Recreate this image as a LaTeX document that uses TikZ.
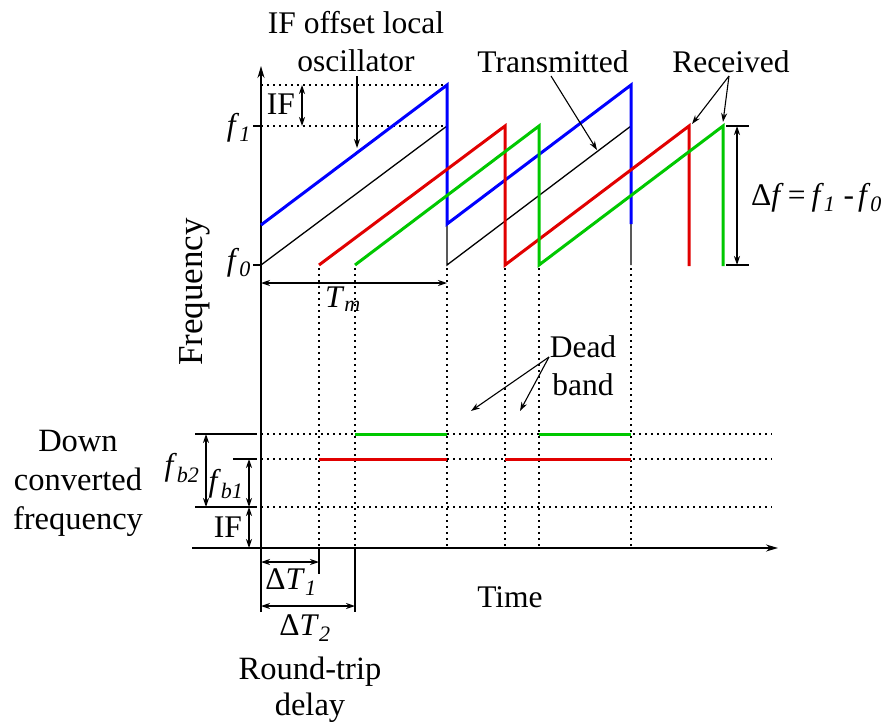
\documentclass[tikz,border=0pt]{standalone}
\usepackage{fontspec}
\setmainfont{Liberation Serif}
\usetikzlibrary{arrows.meta}
\definecolor{myblue}{RGB}{0,0,255}
\definecolor{myred}{RGB}{225,0,0}
\definecolor{mygreen}{RGB}{0,200,0}
\newcommand{\ital}[1]{\textit{#1}}
\newcommand{\isub}[1]{\textsubscript{\textit{#1}}}
\begin{document}
\begin{tikzpicture}[x=1pt,y=-1pt,
  font=\fontsize{31.5}{38}\selectfont,
  ax/.style={line width=1.6pt},
  thin/.style={line width=1.3pt},
  arr/.style={-{Stealth[length=9pt,width=6pt]}, line width=1.1pt},
  dbl/.style={{Stealth[length=9pt,width=6pt]}-{Stealth[length=9pt,width=6pt]}, line width=1.3pt},
  dotln/.style={dash pattern=on 2pt off 4pt, line width=1.3pt},
  sig/.style={line width=3pt, line join=miter},
  lbl/.style={inner sep=0pt}]
\useasboundingbox (0,0) rectangle (886,723);

% named coordinates
\coordinate (O) at (261,548);
\coordinate (Ytop) at (261,66);
\coordinate (Ybot) at (261,612);
\coordinate (Xl) at (192,548);
\coordinate (Xr) at (778,548);

% axes
\draw[ax,-{Stealth[length=12pt,width=7pt]}] (Ybot) -- (Ytop);
\draw[ax,-{Stealth[length=12pt,width=7pt]}] (Xl) -- (Xr);
\draw[ax] (253,126) -- (261,126);
\draw[ax] (253,265) -- (261,265);

% dotted guides top
\draw[dotln] (261,85) -- (447,85);
\draw[dotln] (261,126) -- (447,126);
\draw[dbl] (302,85) -- (302,126);
\node[lbl] (iflab) at (281,104) {IF};
\node[lbl,anchor=east] (f1) at (251,128) {\ital{f}\isub{1}};
\node[lbl,anchor=east] (f0) at (251,263) {\ital{f}\isub{0}};

% dotted verticals
\foreach \xx in {319,355,447,505,539,631}
  \draw[dotln] (\xx,268) -- (\xx,548);

% signals
\draw[thin] (261,265) -- (447,126) -- (447,265) -- (631,126) -- (631,265);
\draw[sig,myblue] (261,225) -- (447,85) -- (447,224) -- (631,85) -- (631,224);
\draw[sig,myred] (319,265) -- (505,126) -- (505,265) -- (689,126) -- (689,266);
\draw[sig,mygreen] (355,265) -- (539,126) -- (539,265) -- (723,126) -- (723,266);

% delta f
\draw[thin] (726,126) -- (749,126);
\draw[thin] (726,265) -- (749,265);
\draw[dbl] (737,126) -- (737,265);
\node[lbl,anchor=west] (df) at (751,198) {Δ\ital{f}\hspace{4pt}=\hspace{6pt}\ital{f}\isub{1}\hspace{8pt}-\hspace{4pt}\ital{f}\isub{0}};

% Tm
\draw[dbl] (261,283) -- (447,283);
\node[lbl] (tm) at (343,299) {\ital{T}\isub{m}};

% Frequency label
\node[lbl,rotate=90,font=\fontsize{35}{40}\selectfont] (freq) at (195,292) {Frequency};

% top labels
\node[lbl,align=center] (lo) at (356,42) {IF offset local\\oscillator};
\coordinate (loT) at (357,148);
\draw[arr] (357,76) -- (loT);
\node[lbl] (tx) at (553,62) {Transmitted};
\coordinate (txT) at (597,150);
\draw[arr] (551,76) -- (txT);
\node[lbl] (rx) at (731,62) {Received};
\coordinate (rxA) at (692,124);
\coordinate (rxB) at (723,122);
\draw[arr] (729,76) -- (rxA);
\draw[arr] (729,76) -- (rxB);

% dead band
\node[lbl,align=center] (db) at (583,366) {Dead\\band};
\coordinate (dbA) at (471,411);
\coordinate (dbB) at (520,411);
\draw[arr] (549,357) -- (dbA);
\draw[arr] (549,357) -- (dbB);

% lower dotted horizontals
\draw[dotln] (261,434) -- (772,434);
\draw[dotln] (261,459) -- (772,459);
\draw[dotln] (261,507) -- (772,507);
\draw[thin] (195,434) -- (257,434);
\draw[thin] (233,459) -- (257,459);
\draw[thin] (195,507) -- (257,507);

% beat levels
\draw[sig,mygreen] (355,434) -- (447,434);
\draw[sig,mygreen] (539,434) -- (631,434);
\draw[sig,myred] (319,459) -- (447,459);
\draw[sig,myred] (505,459) -- (631,459);

% left arrows
\draw[dbl] (206,434) -- (206,507);
\draw[dbl] (249,459) -- (249,507);
\draw[dbl] (249,507) -- (249,548);
\node[lbl] (fb2) at (182,468) {\ital{f}\isub{b2}};
\node[lbl] (fb1) at (226,484) {\ital{f}\isub{b1}};
\node[lbl] (if2) at (228,527) {IF};
\node[lbl,align=center,font=\fontsize{32.5}{39}\selectfont] (dcf) at (78,483) {Down\\converted\\frequency};

% delays
\draw[thin] (319,548) -- (319,574);
\draw[thin] (355,548) -- (355,612);
\draw[dbl] (261,562) -- (319,562);
\draw[dbl] (261,606) -- (355,606);
\node[lbl] (dt1) at (291,582) {Δ\ital{T}\isub{1}};
\node[lbl] (dt2) at (305,628) {Δ\ital{T}\isub{2}};
\node[lbl,align=center,font=\fontsize{32.5}{36}\selectfont] (rtd) at (310,690) {Round-trip\\delay};
\node[lbl] (time) at (510,597) {Time};
\end{tikzpicture}
\end{document}
